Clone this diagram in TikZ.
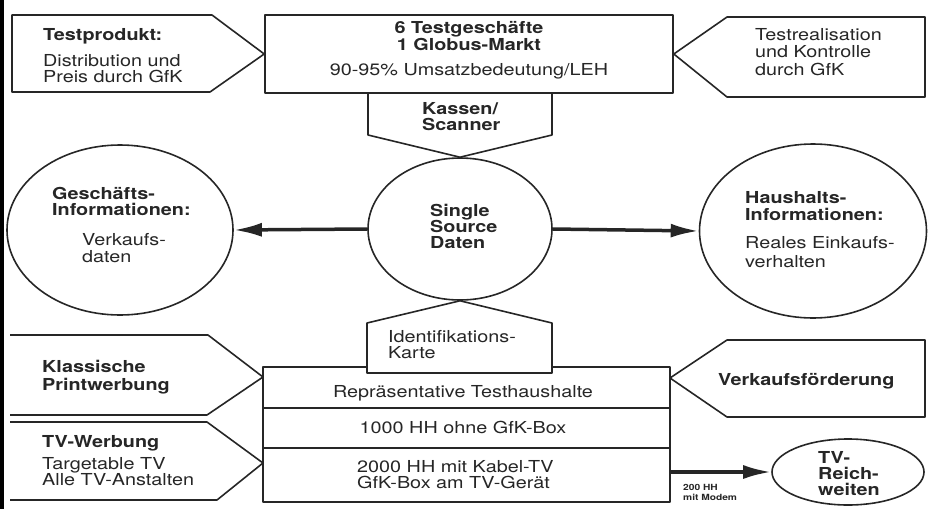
\documentclass[tikz,border=0pt]{standalone}
\usepackage{fontspec}
\setmainfont{TeX Gyre Heros}[FakeStretch=1.2]
\usetikzlibrary{arrows.meta,shapes.geometric}
\definecolor{ink}{gray}{0.15}
\tikzset{
  boxline/.style={draw=ink, line width=1.6pt, fill=white, line join=round},
  blob/.style={ellipse, draw=ink, line width=1.6pt, fill=white, inner sep=0pt},
  lbl/.style={inner sep=0pt, anchor=base west, align=left, text=ink, font=\fontsize{16.5}{16}\selectfont},
  hd/.style={lbl, font=\fontsize{16.5}{16}\selectfont\bfseries},
  bigarrow/.style={-{Latex[length=28pt,width=14pt]}, line width=3.5pt, draw=ink}
}

\begin{document}
\begin{tikzpicture}[x=1pt,y=-1pt]
  \useasboundingbox (0,0) rectangle (929,509);
  \fill[black] (0,0) rectangle (4,509);

  % oben: Testmarkt (Texte stehen auf der Grundlinie ihrer letzten Zeile)
  \node[boxline, minimum width=408pt, minimum height=78pt, inner sep=0pt] (top) at (469,54) {};
  \draw[boxline] (12,15) -- (212,15) -- (top.west) -- (210,92) -- (12,92) -- cycle;
  \draw[boxline] (top.east) -- (727,17) -- (925,17) -- (925,97) -- (727,97) -- cycle;
  \node[hd] (prod) at (43,40) {Testprodukt:};
  \node[lbl] (prodtxt) at (43,82) {Distribution und\\Preis durch GfK};
  \node[hd, anchor=base, align=center] (shops) at (469,50) {6 Testgeschäfte\\[1pt]1 Globus-Markt};
  \node[lbl, anchor=base] (umsatz) at (469,75) {90-95\% Umsatzbedeutung/LEH};
  \node[lbl] (real) at (755,75) {Testrealisation\\[1.5pt]und Kontrolle\\[1.5pt]durch GfK};

  % Mitte: Single Source
  \node[blob, minimum width=184pt, minimum height=142pt] (src) at (460,229) {};
  \node[blob, minimum width=226pt, minimum height=170pt] (shop) at (120,230) {};
  \node[blob, minimum width=227pt, minimum height=174pt] (hh) at (813,231) {};
  \draw[boxline] (368,93) -- (552,93) -- (552,135) -- (src.north) -- (368,135) -- cycle;
  \node[hd] (kasse) at (422,130) {Kassen/\\Scanner};
  \node[hd] (srctxt) at (430,248) {Single\\Source\\Daten};
  \node[hd] (shoptit) at (52,215) {Geschäfts-\\Informationen:};
  \node[lbl] (shoptxt) at (82,262) {Verkaufs-\\[1pt]daten};
  \node[hd] (hhtit) at (745,220) {Haushalts-\\[1pt]Informationen:};
  \node[lbl] (hhtxt) at (745,267) {Reales Einkaufs-\\[3pt]verhalten};
  \draw[bigarrow] (src.west) -- (shop.east);
  \draw[bigarrow] (src.east) -- (hh.west);

  % unten: Testhaushalte
  \node[boxline, minimum width=407pt, minimum height=135pt, inner sep=0pt] (hhbox) at (466.5,434.5) {};
  \draw[ink, line width=1.2pt] (263,408) -- (670,408);
  \draw[ink, line width=1.2pt] (263,448) -- (670,448);
  \draw[boxline] (367,373) -- (367,323) -- (src.south) -- (552,323) -- (552,373) -- cycle;
  \node[lbl] (karte) at (388,358) {Identifikations-\\Karte};
  \node[lbl, anchor=base] (row1) at (463,397) {Repräsentative Testhaushalte};
  \node[lbl, anchor=base] (row2) at (463,433) {1000 HH ohne GfK-Box};
  \node[lbl] (row3) at (357,488) {2000 HH mit Kabel-TV\\GfK-Box am TV-Gerät};

  \draw[boxline] (10,335) -- (208,335) -- (263,377) -- (207,415) -- (10,415);
  \draw[boxline] (10,422) -- (207,422) -- (263,463) -- (217,500) -- (10,500);
  \node[hd] (print) at (42,390) {Klassische\\[2pt]Printwerbung};
  \node[hd] (tvw) at (42,447) {TV-Werbung};
  \node[lbl] (tvwtxt) at (42,485) {Targetable TV\\Alle TV-Anstalten};

  \draw[boxline] (670,378) -- (727,340) -- (925,340) -- (925,417) -- (727,417) -- cycle;
  \node[hd] (vkf) at (718,385) {Verkaufsförderung};

  \node[blob, minimum width=152pt, minimum height=66pt] (tvr) at (848,472) {};
  \node[hd] (tvrtxt) at (818,495) {TV-\\Reich-\\weiten};
  \draw[bigarrow] (hhbox.east |- tvr.west) -- (tvr.west);
  \node[lbl, font=\fontsize{8.5}{10}\selectfont\bfseries] (modem) at (683,500) {200 HH\\mit Modem};
\end{tikzpicture}
\end{document}
